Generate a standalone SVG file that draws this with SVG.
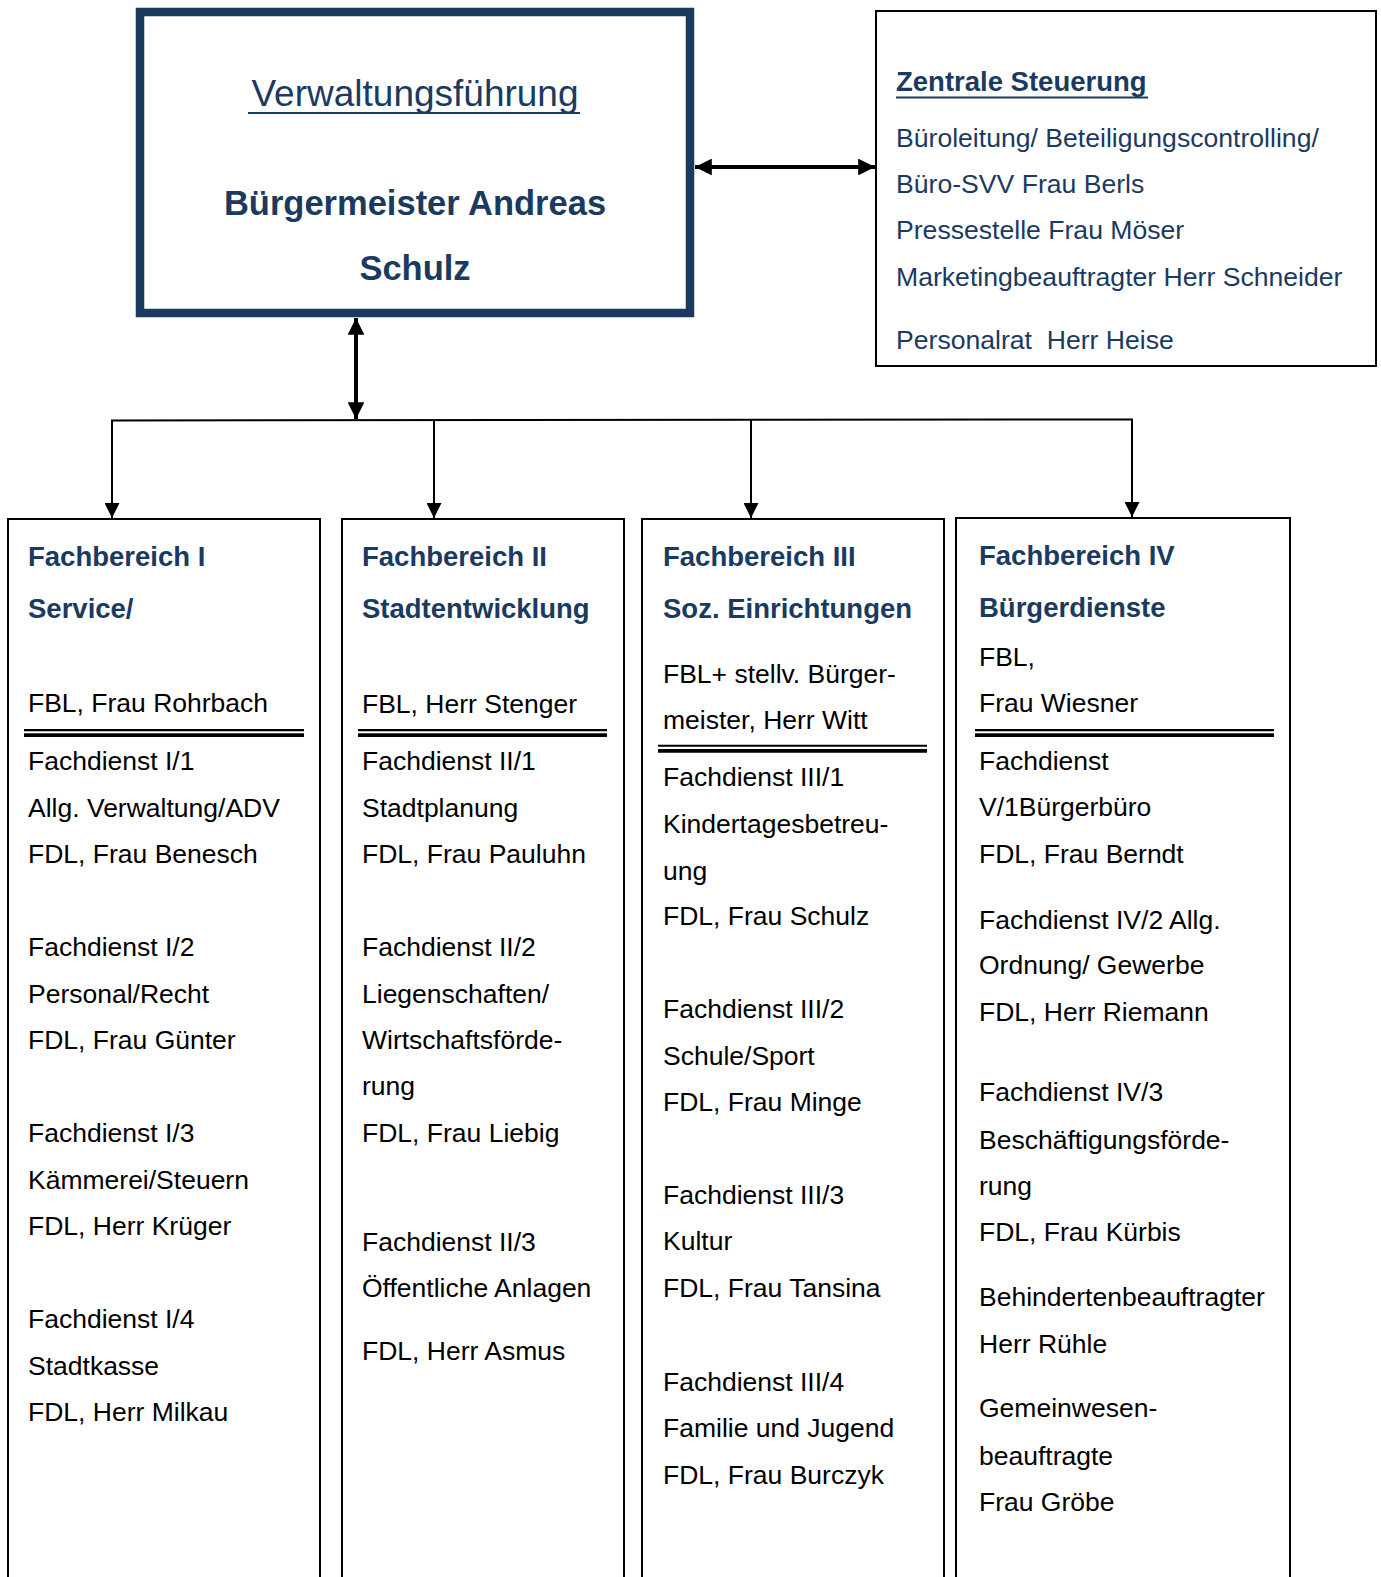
<svg xmlns="http://www.w3.org/2000/svg" width="1381" height="1577" viewBox="0 0 1381 1577">
<style>
text{font-family:"Liberation Sans",Arial,sans-serif}
.t{fill:#1b3a5f;font-size:37px}
.tb{fill:#1b3a5f;font-size:34.5px;font-weight:bold}
.h{fill:#1b3a5f;font-size:27.5px;font-weight:bold}
.n{fill:#1b3a5f;font-size:26.6px}
.b{fill:#000;font-size:26.5px}
.box{fill:#fff;stroke:#000;stroke-width:2}
.c{stroke:#000;fill:none}
</style>
<defs>
<marker id="ah" viewBox="0 0 10 10" refX="10" refY="5" markerWidth="4.2" markerHeight="4.2" markerUnits="strokeWidth" orient="auto-start-reverse"><path d="M0,0 L10,5 L0,10 z" fill="#000"/></marker>
<marker id="as" viewBox="0 0 10 10" refX="10" refY="5" markerWidth="7.5" markerHeight="7.5" markerUnits="strokeWidth" orient="auto"><path d="M0,0 L10,5 L0,10 z" fill="#000"/></marker>
</defs>
<rect width="1381" height="1577" fill="#fff"/>

<g id="verwaltungsfuehrung">
<rect x="140" y="12" width="550" height="301" fill="#fff" stroke="#1b3a5f" stroke-width="8.5"/>
<text class="t" x="415" y="106" text-anchor="middle">Verwaltungsführung</text>
<line x1="248" y1="113" x2="580" y2="113" stroke="#1b3a5f" stroke-width="2"/>
<text class="tb" x="415" y="215" text-anchor="middle">Bürgermeister Andreas</text>
<text class="tb" x="415" y="280" text-anchor="middle">Schulz</text>
</g>

<g id="zentrale-steuerung">
<rect x="876" y="11" width="500" height="355" class="box"/>
<text class="h" x="896" y="91">Zentrale Steuerung</text>
<line x1="896" y1="97.5" x2="1148" y2="97.5" stroke="#1b3a5f" stroke-width="2"/>
<text class="n" x="896" y="147">Büroleitung/ Beteiligungscontrolling/</text>
<text class="n" x="896" y="193">Büro-SVV Frau Berls</text>
<text class="n" x="896" y="239">Pressestelle Frau Möser</text>
<text class="n" x="896" y="286">Marketingbeauftragter Herr Schneider</text>
<text class="n" x="896" y="349" xml:space="preserve">Personalrat  Herr Heise</text>
</g>

<g id="fachbereich-1">
<rect x="8" y="519" width="312" height="1080" class="box"/>
<text class="h" x="28" y="566">Fachbereich I</text>
<text class="h" x="28" y="618">Service/</text>
<text class="b" x="28" y="712">FBL, Frau Rohrbach</text>
<line x1="24" y1="730.2" x2="304" y2="730.2" stroke="#000" stroke-width="2.3"/>
<line x1="24" y1="735.2" x2="304" y2="735.2" stroke="#000" stroke-width="3.7"/>
<text class="b" x="28" y="770">Fachdienst I/1</text>
<text class="b" x="28" y="817">Allg. Verwaltung/ADV</text>
<text class="b" x="28" y="863">FDL, Frau Benesch</text>
<text class="b" x="28" y="956">Fachdienst I/2</text>
<text class="b" x="28" y="1003">Personal/Recht</text>
<text class="b" x="28" y="1049">FDL, Frau Günter</text>
<text class="b" x="28" y="1142">Fachdienst I/3</text>
<text class="b" x="28" y="1189">Kämmerei/Steuern</text>
<text class="b" x="28" y="1235">FDL, Herr Krüger</text>
<text class="b" x="28" y="1328">Fachdienst I/4</text>
<text class="b" x="28" y="1375">Stadtkasse</text>
<text class="b" x="28" y="1421">FDL, Herr Milkau</text>
</g>

<g id="fachbereich-2">
<rect x="342" y="519" width="282" height="1080" class="box"/>
<text class="h" x="362" y="566">Fachbereich II</text>
<text class="h" x="362" y="618">Stadtentwicklung</text>
<text class="b" x="362" y="713">FBL, Herr Stenger</text>
<line x1="358" y1="730.2" x2="607" y2="730.2" stroke="#000" stroke-width="2.3"/>
<line x1="358" y1="735.2" x2="607" y2="735.2" stroke="#000" stroke-width="3.7"/>
<text class="b" x="362" y="770">Fachdienst II/1</text>
<text class="b" x="362" y="817">Stadtplanung</text>
<text class="b" x="362" y="863">FDL, Frau Pauluhn</text>
<text class="b" x="362" y="956">Fachdienst II/2</text>
<text class="b" x="362" y="1003">Liegenschaften/</text>
<text class="b" x="362" y="1049">Wirtschaftsförde-</text>
<text class="b" x="362" y="1095">rung</text>
<text class="b" x="362" y="1142">FDL, Frau Liebig</text>
<text class="b" x="362" y="1251">Fachdienst II/3</text>
<text class="b" x="362" y="1297">Öffentliche Anlagen</text>
<text class="b" x="362" y="1360">FDL, Herr Asmus</text>
</g>

<g id="fachbereich-3">
<rect x="642" y="519" width="302" height="1080" class="box"/>
<text class="h" x="663" y="566">Fachbereich III</text>
<text class="h" x="663" y="618">Soz. Einrichtungen</text>
<text class="b" x="663" y="683">FBL+ stellv. Bürger-</text>
<text class="b" x="663" y="729">meister, Herr Witt</text>
<line x1="658" y1="745.8" x2="927" y2="745.8" stroke="#000" stroke-width="2"/>
<line x1="658" y1="750.8" x2="927" y2="750.8" stroke="#000" stroke-width="3.7"/>
<text class="b" x="663" y="786">Fachdienst III/1</text>
<text class="b" x="663" y="833">Kindertagesbetreu-</text>
<text class="b" x="663" y="880">ung</text>
<text class="b" x="663" y="925">FDL, Frau Schulz</text>
<text class="b" x="663" y="1018">Fachdienst III/2</text>
<text class="b" x="663" y="1065">Schule/Sport</text>
<text class="b" x="663" y="1111">FDL, Frau Minge</text>
<text class="b" x="663" y="1204">Fachdienst III/3</text>
<text class="b" x="663" y="1250">Kultur</text>
<text class="b" x="663" y="1297">FDL, Frau Tansina</text>
<text class="b" x="663" y="1391">Fachdienst III/4</text>
<text class="b" x="663" y="1437">Familie und Jugend</text>
<text class="b" x="663" y="1484">FDL, Frau Burczyk</text>
</g>

<g id="fachbereich-4">
<rect x="956" y="518" width="334" height="1080" class="box"/>
<text class="h" x="979" y="565">Fachbereich IV</text>
<text class="h" x="979" y="617">Bürgerdienste</text>
<text class="b" x="979" y="666">FBL,</text>
<text class="b" x="979" y="712">Frau Wiesner</text>
<line x1="975" y1="730.2" x2="1274" y2="730.2" stroke="#000" stroke-width="2.3"/>
<line x1="975" y1="735.2" x2="1274" y2="735.2" stroke="#000" stroke-width="3.7"/>
<text class="b" x="979" y="770">Fachdienst</text>
<text class="b" x="979" y="816">V/1Bürgerbüro</text>
<text class="b" x="979" y="863">FDL, Frau Berndt</text>
<text class="b" x="979" y="929">Fachdienst IV/2 Allg.</text>
<text class="b" x="979" y="974">Ordnung/ Gewerbe</text>
<text class="b" x="979" y="1021">FDL, Herr Riemann</text>
<text class="b" x="979" y="1101">Fachdienst IV/3</text>
<text class="b" x="979" y="1149">Beschäftigungsförde-</text>
<text class="b" x="979" y="1195">rung</text>
<text class="b" x="979" y="1241">FDL, Frau Kürbis</text>
<text class="b" x="979" y="1306">Behindertenbeauftragter</text>
<text class="b" x="979" y="1353">Herr Rühle</text>
<text class="b" x="979" y="1417">Gemeinwesen-</text>
<text class="b" x="979" y="1465">beauftragte</text>
<text class="b" x="979" y="1511">Frau Gröbe</text>
</g>

<g id="connectors">
<line class="c" x1="695" y1="167" x2="875" y2="167" stroke-width="4" marker-start="url(#ah)" marker-end="url(#ah)"/>
<line class="c" x1="356" y1="318" x2="356" y2="419" stroke-width="4" marker-start="url(#ah)" marker-end="url(#ah)"/>
<line class="c" x1="111" y1="420.5" x2="1133" y2="419.5" stroke-width="2"/>
<line class="c" x1="112" y1="420" x2="112" y2="518" stroke-width="2" marker-end="url(#as)"/>
<line class="c" x1="434" y1="420" x2="434" y2="518" stroke-width="2" marker-end="url(#as)"/>
<line class="c" x1="751" y1="420" x2="751" y2="518" stroke-width="2" marker-end="url(#as)"/>
<line class="c" x1="1132" y1="419" x2="1132" y2="517" stroke-width="2" marker-end="url(#as)"/>
</g>
</svg>
